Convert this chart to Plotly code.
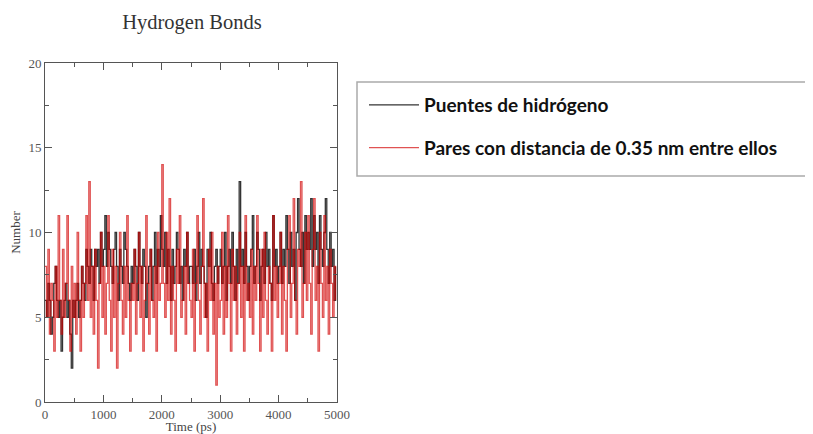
import plotly.graph_objects as go

time_ps = [i * 25 for i in range(200)]

hbonds = [
    6,5,7,6,4,5,7,8,6,5,6,3,5,6,7,5,6,4,2,6,
    5,6,7,5,6,8,7,6,9,8,7,9,8,6,9,8,9,7,10,8,
    9,11,8,10,9,8,7,9,10,8,6,9,8,7,10,9,8,7,6,8,
    7,9,8,6,10,8,7,9,8,5,7,8,9,6,8,10,7,9,8,11,
    9,8,10,7,9,8,6,9,7,8,10,9,7,8,6,9,8,10,7,8,
    8,7,9,6,8,10,7,9,8,7,5,9,8,10,7,6,8,9,7,8,
    9,7,8,10,6,8,9,7,10,8,6,9,7,13,8,9,7,10,8,6,
    8,9,11,7,8,10,9,6,8,9,7,10,8,9,7,6,11,8,9,7,
    8,10,7,9,8,11,9,7,10,8,9,6,10,12,9,8,10,7,11,9,
    10,9,12,8,11,9,10,7,11,9,8,10,12,9,7,10,8,9,6,8,
]

pairs = [
    8,5,9,4,7,6,3,8,5,11,6,4,9,5,7,11,6,3,8,5,
    7,4,10,6,3,8,5,7,11,6,13,5,8,4,9,6,2,7,10,5,
    8,4,7,11,6,3,9,5,8,2,7,10,6,4,8,5,11,6,3,7,
    6,9,4,7,10,5,8,3,6,11,7,4,9,6,5,8,3,10,6,7,
    14,7,5,10,6,12,4,8,6,3,9,7,11,5,6,8,4,10,7,6,
    5,9,3,7,11,6,4,8,12,5,7,3,9,6,10,4,7,1,8,5,
    6,10,4,8,5,11,7,3,9,6,8,4,7,10,5,8,3,11,6,7,
    5,9,4,8,6,11,7,3,9,5,10,6,4,8,7,3,11,6,8,5,
    7,10,4,8,6,3,9,11,5,7,12,6,4,9,8,13,5,7,10,6,
    11,7,4,9,12,6,8,3,10,7,5,11,6,8,4,9,7,5,8,6,
]

series_names = ["Puentes de hidrógeno", "Pares con distancia de 0.35 nm entre ellos"]

# the page body has an 8px margin: work in window pixels and subtract it
OFF = 8
W, H = 813 - OFF, 434 - OFF
L, R, T, B = 45 - OFF, 337 - OFF, 63 - OFF, 402 - OFF
pw, ph = R - L, B - T

fig = go.Figure()
fig.add_trace(go.Scatter(x=time_ps, y=hbonds, mode="lines", name=series_names[0], line_shape="hv",
                         line=dict(color="rgba(0,0,0,0.8)", width=1.3), legendgroup="a"))
fig.add_trace(go.Scatter(x=time_ps, y=pairs, mode="lines", name=series_names[1], line_shape="hv",
                         line=dict(color="rgba(210,0,0,0.68)", width=1.3), legendgroup="b"))

serif = "Liberation Serif"
axis_common = dict(showline=True, linecolor="#555", linewidth=1, mirror="ticks", automargin=False,
                   ticks="inside", ticklen=7, tickcolor="#555", showgrid=False, zeroline=False,
                   tickfont=dict(family=serif, size=13, color="#555"))

fig.update_layout(
    width=W, height=H,
    margin=dict(l=L, r=W - R, t=T, b=H - B, autoexpand=False),
    paper_bgcolor="white", plot_bgcolor="white",
    title=dict(text="Hydrogen Bonds", x=(192 - OFF) / W, xanchor="center", xref="container",
               y=1 - (22 - OFF) / H, yanchor="middle",
               font=dict(family=serif, size=20.5, color="#333")),
    xaxis=dict(range=[0, 5000], tickvals=[0, 1000, 2000, 3000, 4000, 5000],
               minor=dict(ticks="inside", ticklen=4, dtick=500, tickcolor="#555"),
               title=dict(text="Time (ps)", font=dict(family=serif, size=13, color="#444"), standoff=0),
               **axis_common),
    yaxis=dict(range=[0, 20], tickvals=[0, 5, 10, 15, 20],
               minor=dict(ticks="inside", ticklen=4, dtick=2.5, tickcolor="#555"),
               title=dict(text="Number", font=dict(family=serif, size=13, color="#444"), standoff=6),
               **axis_common),
    legend=dict(x=(364 - OFF - L) / pw, xanchor="left", y=(B - (86 - OFF)) / ph, yanchor="top",
                bgcolor="rgba(0,0,0,0)", borderwidth=0, tracegroupgap=15, itemwidth=50,
                font=dict(family="Lato", size=19, color="#111", weight="bold")),
    shapes=[dict(type="rect", xref="paper", yref="paper",
                 x0=(357 - OFF - L) / pw, x1=(810 - OFF - L) / pw,
                 y0=(B - (176 - OFF)) / ph, y1=(B - (82 - OFF)) / ph,
                 line=dict(color="#aaa", width=1.5))],
)

fig.write_html("out.html")
